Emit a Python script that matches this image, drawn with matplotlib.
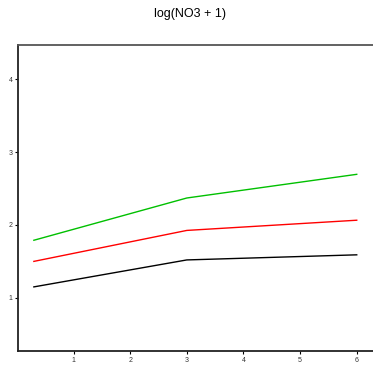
import matplotlib
matplotlib.use("Agg")
import matplotlib.pyplot as plt

x = [0.3, 3, 6]
black = [1.15, 1.52, 1.59]
red = [1.50, 1.925, 2.065]
green = [1.79, 2.37, 2.695]
xticks = [1, 2, 3, 4, 5, 6]
yticks = [1, 2, 3, 4]
title = "log(NO3 + 1)"

plt.rcParams['font.family'] = ['Liberation Sans', 'DejaVu Sans']
fig = plt.figure(figsize=(3.73, 3.67), dpi=100)
ax = fig.add_axes([18/373, 16/367, 358/373, 306/367])
ax.plot(x, black, color='black', lw=1.0)
ax.plot(x, red, color='red', lw=1.0)
ax.plot(x, green, color='#00c000', lw=1.0)
ax.set_xlim(0.02, 6.34)
ax.set_ylim(0.27, 4.47)
ax.set_xticks(xticks)
ax.set_yticks(yticks)
ax.tick_params(labelsize=5, labelcolor='#333333', length=2, width=0.8, pad=2)
for s in ['left', 'bottom', 'top', 'right']:
    ax.spines[s].set_linewidth(1.3)
    ax.spines[s].set_color('#222222')
ax.spines['top'].set_color('#555555')
fig.text(190/373, 1 - 14/367, title, ha='center', va='center', fontsize=9)
fig.savefig("out.png", dpi=100)
